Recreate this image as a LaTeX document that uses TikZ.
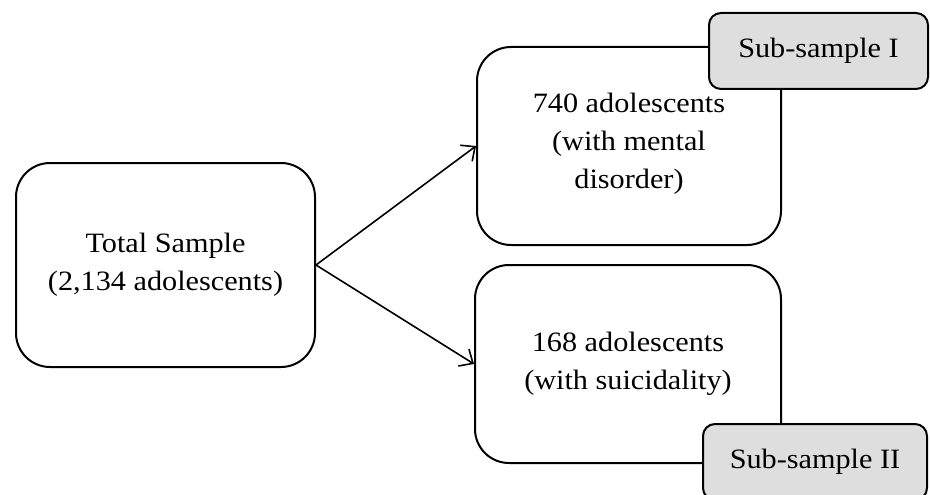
\documentclass[tikz,border=0pt]{standalone}
\usepackage{fontspec}
\setmainfont[FakeStretch=1.08]{Liberation Serif}
\usetikzlibrary{arrows.meta}
\begin{document}
\begin{tikzpicture}[x=1pt,y=-1pt,
  mainbox/.style={draw=black, line width=2pt, rounded corners=34pt, fill=white, align=center,
    font=\fontsize{28}{38}\selectfont, inner sep=0pt},
  subbox/.style={draw=black, line width=2pt, rounded corners=12pt, fill=black!13, align=center,
    font=\fontsize{28}{38}\selectfont, inner sep=0pt},
  conn/.style={line width=1.6pt, -{Straight Barb[length=11pt,width=20pt,line width=1.6pt]}}]
\useasboundingbox (0,0) rectangle (930,495);
\fill[white] (0,0) rectangle (930,495);
\node[mainbox, minimum width=299pt, minimum height=204pt] (total) at (165.5,265) {Total Sample\\(2,134 adolescents)};
\node[mainbox, minimum width=304pt, minimum height=198pt, text depth=10pt] (mental) at (629,146) {740 adolescents\\(with mental\\disorder)};
\node[mainbox, minimum width=306pt, minimum height=198pt] (suic) at (628,364) {168 adolescents\\(with suicidality)};
\node[subbox, minimum width=219pt, minimum height=76pt] (subI) at (818.5,51) {Sub-sample I};
\node[subbox, minimum width=224pt, minimum height=76pt] (subII) at (815,462) {Sub-sample II};
\draw[conn] (total.east) -- (mental.west);
\draw[conn] (total.east) -- (suic.west);
\end{tikzpicture}
\end{document}
